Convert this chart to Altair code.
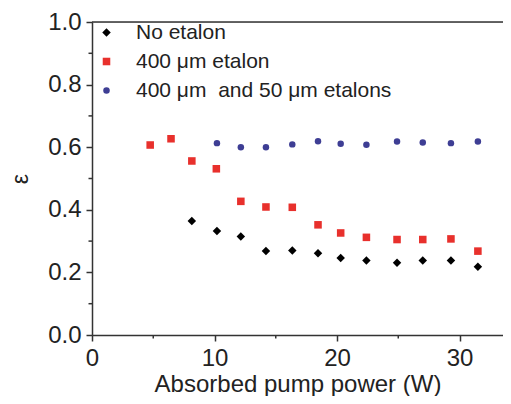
import altair as alt
import pandas as pd

# Series data (absorbed pump power in W, epsilon)
no_etalon_x = [8.15, 10.2, 12.15, 14.2, 16.35, 18.45, 20.3, 22.4, 24.9, 27.0, 29.3, 31.5]
no_etalon_y = [0.364, 0.332, 0.315, 0.268, 0.270, 0.261, 0.246, 0.238, 0.231, 0.238, 0.238, 0.218]

e400_x = [4.75, 6.45, 8.15, 10.15, 12.15, 14.2, 16.35, 18.45, 20.3, 22.4, 24.9, 27.0, 29.3, 31.5]
e400_y = [0.607, 0.627, 0.556, 0.531, 0.427, 0.409, 0.408, 0.352, 0.326, 0.312, 0.305, 0.305, 0.307, 0.268]

e400_50_x = [10.2, 12.15, 14.2, 16.35, 18.45, 20.3, 22.4, 24.9, 27.0, 29.3, 31.5]
e400_50_y = [0.613, 0.600, 0.600, 0.609, 0.619, 0.611, 0.608, 0.618, 0.615, 0.613, 0.618]

series_names = ["No etalon", "400 \u03bcm etalon", "400 \u03bcm\u00a0 and 50 \u03bcm etalons"]
series_colors = ["#000000", "#e8302c", "#3e3e94"]
series_shapes = ["diamond", "square", "circle"]
series_sizes = [72, 42, 49]

y_minor = [0.1, 0.3, 0.5, 0.7, 0.9]
x_minor = [5, 15, 25]

rows = []
for name, xs, ys in zip(series_names, [no_etalon_x, e400_x, e400_50_x],
                        [no_etalon_y, e400_y, e400_50_y]):
    for x, y in zip(xs, ys):
        rows.append({"series": name, "power": x, "eps": y})
df = pd.DataFrame(rows)

X_MAX = 33.55
W, H = 411, 313
FONT = "Liberation Sans"
AX = "#333333"

xscale = alt.Scale(domain=[0, X_MAX], nice=False, zero=False)
yscale = alt.Scale(domain=[0, 1.0], nice=False)

xaxis = alt.Axis(values=[0, 10, 20, 30], format="d", title="Absorbed pump power (W)",
                 labelFontSize=24, titleFontSize=24, labelFont=FONT, titleFont=FONT,
                 titleFontWeight="normal", labelColor="#222", titleColor="#222",
                 domainColor=AX, domainWidth=1.5, tickColor=AX, tickWidth=1.5, tickSize=6,
                 labelPadding=5, titlePadding=2, grid=False, labelFlush=False)
yaxis = alt.Axis(values=[0, 0.2, 0.4, 0.6, 0.8, 1.0], format=".1f", title="\u03b5",
                 labelFontSize=24, titleFontSize=23, labelFont=FONT, titleFont=FONT,
                 titleFontWeight="normal", labelColor="#222", titleColor="#222",
                 domainColor=AX, domainWidth=1.5, tickColor=AX, tickWidth=1.5, tickSize=6,
                 labelPadding=5, titlePadding=15, grid=False, labelFlush=False)

points = alt.Chart(df).mark_point(filled=True, opacity=1, strokeWidth=0).encode(
    x=alt.X("power:Q", scale=xscale, axis=xaxis),
    y=alt.Y("eps:Q", scale=yscale, axis=yaxis),
    color=alt.Color("series:N", scale=alt.Scale(domain=series_names, range=series_colors),
                    legend=alt.Legend(title=None, orient="none", legendX=4, legendY=0,
                                      labelFont=FONT, labelFontSize=21, labelColor="#222",
                                      labelLimit=0, rowPadding=7, labelOffset=19,
                                      padding=0, symbolStrokeWidth=0, symbolOpacity=1)),
    shape=alt.Shape("series:N", scale=alt.Scale(domain=series_names, range=series_shapes)),
    size=alt.Size("series:N", scale=alt.Scale(domain=series_names, range=series_sizes)),
)

minor_y = alt.Chart(pd.DataFrame({"v": y_minor})).mark_rule(color=AX, strokeWidth=1.5).encode(
    y=alt.Y("v:Q", scale=yscale), x=alt.value(-3.5), x2=alt.value(0))
minor_x = alt.Chart(pd.DataFrame({"v": x_minor})).mark_rule(color=AX, strokeWidth=1.5).encode(
    x=alt.X("v:Q", scale=xscale), y=alt.value(H), y2=alt.value(H + 3.5))
top = alt.Chart(pd.DataFrame({"v": [1.0]})).mark_rule(color=AX, strokeWidth=1.5).encode(
    y=alt.Y("v:Q", scale=yscale), x=alt.value(0), x2=alt.value(W))

chart = alt.layer(points, minor_y, minor_x, top).properties(
    width=W, height=H,
    autosize=alt.AutoSizeParams(type="none"),
    padding={"left": 84, "top": 14, "right": 0, "bottom": 61},
).configure_view(stroke=None).configure(background="white")

chart.save("out.html", embed_options={"renderer": "svg", "actions": False})
